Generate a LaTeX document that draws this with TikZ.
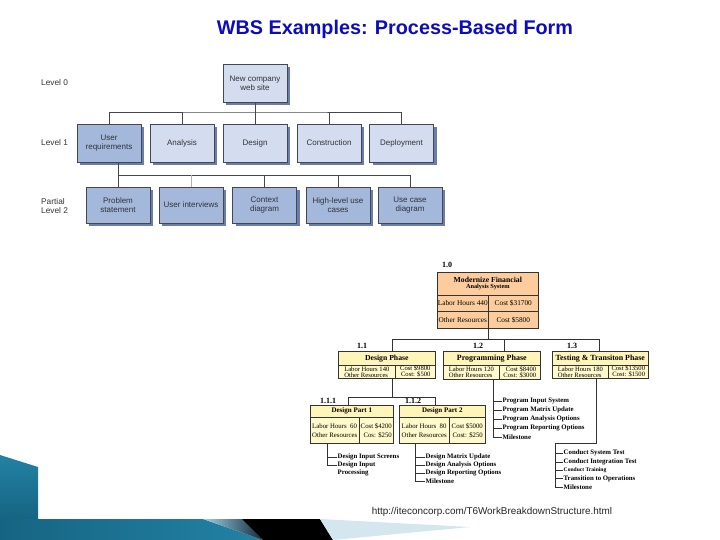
\documentclass[tikz,border=0pt]{standalone}
\usepackage{fontspec}
\setmainfont{Liberation Serif}
\setsansfont{Liberation Sans}
\usetikzlibrary{shadows}
\definecolor{titleblue}{RGB}{12,12,190}
\definecolor{lbfillc}{RGB}{212,221,239}
\definecolor{dbfillc}{RGB}{163,184,218}
\definecolor{shadowblue}{RGB}{105,126,170}
\definecolor{boxline}{RGB}{70,70,80}
\definecolor{txtgray}{RGB}{50,50,55}
\definecolor{peach}{RGB}{252,204,156}
\definecolor{paleyellow}{RGB}{255,249,204}
\definecolor{hdryellow}{RGB}{255,245,185}
\definecolor{tealdark}{RGB}{22,100,130}
\definecolor{teallight}{RGB}{90,182,214}
\definecolor{tealmid}{RGB}{35,130,165}
\definecolor{palegrey}{RGB}{212,230,238}
\definecolor{navy}{RGB}{20,40,60}
\newcommand{\tfont}{\sffamily\fontsize{8}{9.2}\selectfont}
\newcommand{\cellfont}{\fontsize{6.6}{6.1}\selectfont}
\begin{document}
\begin{tikzpicture}[x=1pt,y=-1pt,
  wbox/.style={rectangle, draw=boxline, line width=0.6pt, minimum width=64pt,
    minimum height=38pt, align=center, font=\tfont, text=txtgray, inner sep=1pt,
    drop shadow={shadow xshift=3pt, shadow yshift=-3pt, fill=shadowblue, opacity=1}},
  lbfill/.style={fill=lbfillc},
  dbfill/.style={fill=dbfillc},
  conn/.style={draw=boxline, line width=0.8pt},
  lvl/.style={anchor=west, font=\sffamily\fontsize{8.3}{9.5}\selectfont, text=txtgray, align=left, inner sep=0pt},
  pcell/.style={rectangle, draw=black!80, line width=0.6pt, anchor=north west, inner sep=0pt, font=\cellfont},
  wconn/.style={draw=black!80, line width=0.8pt},
  numlab/.style={font=\bfseries\fontsize{8}{9}\selectfont, inner sep=0pt},
  litem/.style={anchor=west, font=\bfseries\fontsize{6.8}{7.6}\selectfont, inner sep=0.5pt, align=left}
]
\useasboundingbox (0,0) rectangle (720,540);
\fill[white] (0,0) rectangle (720,540);

% decoration
\shade[top color=tealmid, bottom color=tealdark] (0,455) -- (38,467) -- (38,519) -- (0,519) -- cycle;
\shade[left color=tealdark, middle color=teallight, right color=tealmid] (0,519) -- (203,519) -- (263,540) -- (0,540) -- cycle;
\shade[left color=teallight!60!white, right color=navy] (203,519) -- (242,519) -- (263,540) -- cycle;
\fill[black] (242,519) -- (320,519) -- (333,540) -- (263,540) -- cycle;
\fill[palegrey] (320,519) -- (470,527) -- (333,540) -- cycle;

% title
\node[font=\sffamily\bfseries\fontsize{19.8}{24}\selectfont, text=titleblue] (title) at (395,29) {WBS Examples: Process-Based Form};

% level labels
\node[lvl] (l0) at (41,83) {Level 0};
\node[lvl] (l1) at (41,143) {Level 1};
\node[lvl] (l2) at (41,206) {Partial\\Level 2};

% top WBS
\node[wbox, lbfill] (nw) at (255,83) {New company\\web site};
\node[wbox, dbfill] (ur) at (109,143) {User\\requirements};
\node[wbox, lbfill] (an) at (182,143) {Analysis};
\node[wbox, lbfill] (de) at (255,143) {Design};
\node[wbox, lbfill] (co) at (329,143) {Construction};
\node[wbox, lbfill] (dp) at (401.5,143) {Deployment};
\node[wbox, dbfill, minimum height=36pt] (ps) at (118,205) {Problem\\statement};
\node[wbox, dbfill, minimum height=36pt] (ui) at (191,205) {User interviews};
\node[wbox, dbfill, minimum height=36pt] (cd) at (264.5,205) {Context\\diagram};
\node[wbox, dbfill, minimum height=36pt] (hl) at (338,205) {High-level use\\cases};
\node[wbox, dbfill, minimum height=36pt] (uc) at (410,205) {Use case\\diagram};

\coordinate (t1) at (255,112);
\draw[conn] (nw.south) -- (t1);
\draw[conn] (ur.north) |- (t1) -| (dp.north);
\draw[conn] (an.north) -- (an.north |- t1);
\draw[conn] (de.north) -- (de.north |- t1);
\draw[conn] (co.north) -- (co.north |- t1);
\coordinate (t2) at (118,175);
\draw[conn] (ur.south -| t2) -- (t2) -| (uc.north);
\draw[conn] (ps.north) -- (t2);
\draw[conn, draw=black!30] (ui.north) -- (ui.north |- t2);
\draw[conn] (cd.north) -- (cd.north |- t2);
\draw[conn] (hl.north) -- (hl.north |- t2);

% bottom WBS (cost)
\node[numlab] (n10) at (447,265) {1.0};
\node[pcell, fill=peach, minimum width=101pt, minimum height=23pt, align=center] (r0) at (437,272)
  {\textbf{\fontsize{7.7}{8.5}\selectfont Modernize Financial}\\[0pt]\textbf{\fontsize{6.3}{7}\selectfont Analysis System}};
\node[pcell, fill=peach, minimum width=51pt, minimum height=16pt, font=\fontsize{7.3}{8}\selectfont] (r0a) at (437,295) {Labor Hours 440};
\node[pcell, fill=peach, minimum width=50pt, minimum height=16pt, font=\fontsize{7.3}{8}\selectfont] (r0b) at (488,295) {Cost \$31700};
\node[pcell, fill=peach, minimum width=51pt, minimum height=17pt, font=\fontsize{7.3}{8}\selectfont] (r0c) at (437,311) {Other Resources};
\node[pcell, fill=peach, minimum width=50pt, minimum height=17pt, font=\fontsize{7.3}{8}\selectfont] (r0d) at (488,311) {Cost \$5800};

\node[numlab] (n11) at (362,346) {1.1};
\node[numlab] (n12) at (478,346) {1.2};
\node[numlab] (n13) at (572,346) {1.3};

% 1.1
\node[pcell, fill=hdryellow, minimum width=97pt, minimum height=14pt, font=\bfseries\fontsize{7.7}{8}\selectfont] (dph) at (338,351) {Design Phase};
\node[pcell, fill=paleyellow, minimum width=57pt, minimum height=13pt, align=left] (dpl) at (338,365) {Labor Hours 140\\Other Resources};
\node[pcell, fill=paleyellow, minimum width=40pt, minimum height=13pt, align=right] (dpr) at (395,365) {Cost \$9800\\Cost: \$500};
% 1.2
\node[pcell, fill=hdryellow, minimum width=97pt, minimum height=14pt, font=\bfseries\fontsize{8}{8}\selectfont] (pph) at (443,351) {Programming Phase};
\node[pcell, fill=paleyellow, minimum width=56pt, minimum height=14pt, align=left] (ppl) at (443,365) {Labor Hours 120\\Other Resources};
\node[pcell, fill=paleyellow, minimum width=41pt, minimum height=14pt, align=right] (ppr) at (499,365) {Cost \$8400\\Cost: \$3000};
% 1.3
\node[pcell, fill=hdryellow, minimum width=96pt, minimum height=14pt, font=\bfseries\fontsize{7.9}{8}\selectfont] (tph) at (552,351) {Testing \& Transiton Phase};
\node[pcell, fill=paleyellow, minimum width=56pt, minimum height=13pt, align=left] (tpl) at (552,365) {Labor Hours 180\\Other Resources};
\node[pcell, fill=paleyellow, minimum width=40pt, minimum height=13pt, align=right] (tpr) at (608,365) {Cost \$13500\\Cost: \$1500};

% 1.1.x
\node[numlab] (n111) at (328,401) {1.1.1};
\node[numlab] (n112) at (413,401) {1.1.2};
\node[pcell, fill=hdryellow, minimum width=83pt, minimum height=12pt, font=\bfseries\fontsize{7}{8}\selectfont] (d1h) at (310,405) {Design Part 1};
\node[pcell, fill=paleyellow, minimum width=49pt, minimum height=26pt, align=left, font=\fontsize{6.8}{9}\selectfont] (d1l) at (310,417) {Labor Hours~~60\\Other Resources};
\node[pcell, fill=paleyellow, minimum width=34pt, minimum height=26pt, align=right, font=\fontsize{6.8}{9}\selectfont] (d1r) at (359,417) {Cost \$4200\\Cos: \$250};
\node[pcell, fill=hdryellow, minimum width=86pt, minimum height=12pt, font=\bfseries\fontsize{7}{8}\selectfont] (d2h) at (399,405) {Design Part 2};
\node[pcell, fill=paleyellow, minimum width=50pt, minimum height=26pt, align=left, font=\fontsize{6.8}{9}\selectfont] (d2l) at (399,417) {Labor Hours~~80\\Other Resources};
\node[pcell, fill=paleyellow, minimum width=36pt, minimum height=26pt, align=right, font=\fontsize{6.8}{9}\selectfont] (d2r) at (449,417) {Cost \$5000\\Cost: \$250};

% connectors level 1
\coordinate (j0) at (488,339);
\coordinate (j1) at (392,339);
\coordinate (j2) at (504,339);
\coordinate (j3) at (599,339);
\draw[wconn] (r0d.south west) -- (j0);
\draw[wconn] (dph.north -| j1) -- (j1) -- (j3) -- (tph.north -| j3);
\draw[wconn] (j2) -- (pph.north -| j2);
% connectors 1.1 -> 1.1.x
\coordinate (k0) at (392,397);
\coordinate (k1) at (348,397);
\coordinate (k2) at (435,397);
\draw[wconn] (dpl.south -| k0) -- (k0);
\draw[wconn] (d1h.north -| k1) -- (k1) -- (k2) -- (d2h.north -| k2);

% list of 1.1.1
\coordinate (v1) at (327,465);
\node[litem] (a1) at (337,457) {Design Input Screens};
\node[litem, anchor=north west] (a2) at (337,461) {Design Input\\Processing};
\draw[wconn] (d1l.south -| v1) -- (v1);
\draw[wconn] (v1 |- a1.west) -- (a1.west);
\draw[wconn] (v1) -- (a2.west |- v1);

% list of 1.1.2
\coordinate (v2) at (415,481);
\node[litem] (b1) at (425,457) {Design Matrix Update};
\node[litem] (b2) at (425,465) {Design Analysis Options};
\node[litem] (b3) at (425,473) {Design Reporting Options};
\node[litem] (b4) at (425,481) {Milestone};
\draw[wconn] (d2l.south -| v2) -- (v2);
\draw[wconn] (v2 |- b1.west) -- (b1.west);
\draw[wconn] (v2 |- b2.west) -- (b2.west);
\draw[wconn] (v2 |- b3.west) -- (b3.west);
\draw[wconn] (v2) -- (b4.west);

% list of 1.2
\coordinate (v3) at (493,437);
\node[litem] (c1) at (502,401) {Program Input System};
\node[litem] (c2) at (502,410) {Program Matrix Update};
\node[litem] (c3) at (502,419) {Program Analysis Options};
\node[litem] (c4) at (502,428) {Program Reporting Options};
\node[litem] (c5) at (502,437) {Milestone};
\draw[wconn] (ppl.south -| v3) -- (v3);
\draw[wconn] (v3 |- c1.west) -- (c1.west);
\draw[wconn] (v3 |- c2.west) -- (c2.west);
\draw[wconn] (v3 |- c3.west) -- (c3.west);
\draw[wconn] (v3 |- c4.west) -- (c4.west);
\draw[wconn] (v3) -- (c5.west);

% list of 1.3
\coordinate (w0) at (596,443);
\coordinate (w1) at (555,443);
\coordinate (w2) at (555,487);
\node[litem] (e1) at (563,453) {Conduct System Test};
\node[litem] (e2) at (563,462) {Conduct Integration Test};
\node[litem, font=\bfseries\fontsize{5.6}{6}\selectfont] (e3) at (563,470.5) {Conduct Training};
\node[litem] (e4) at (563,478.5) {Transition to Operations};
\node[litem] (e5) at (563,487) {Milestone};
\draw[wconn] (tpl.south -| w0) -- (w0) -- (w1) -- (w2);
\draw[wconn] (w1 |- e1.west) -- (e1.west);
\draw[wconn] (w1 |- e2.west) -- (e2.west);
\draw[wconn, line width=0.5pt] (w1 |- e3.west) -- (e3.west);
\draw[wconn] (w1 |- e4.west) -- (e4.west);
\draw[wconn] (w2) -- (e5.west);

% source
\node[font=\sffamily\fontsize{9.9}{11}\selectfont, text=black!85] (url) at (492,512) {http://iteconcorp.com/T6WorkBreakdownStructure.html};
\end{tikzpicture}
\end{document}
